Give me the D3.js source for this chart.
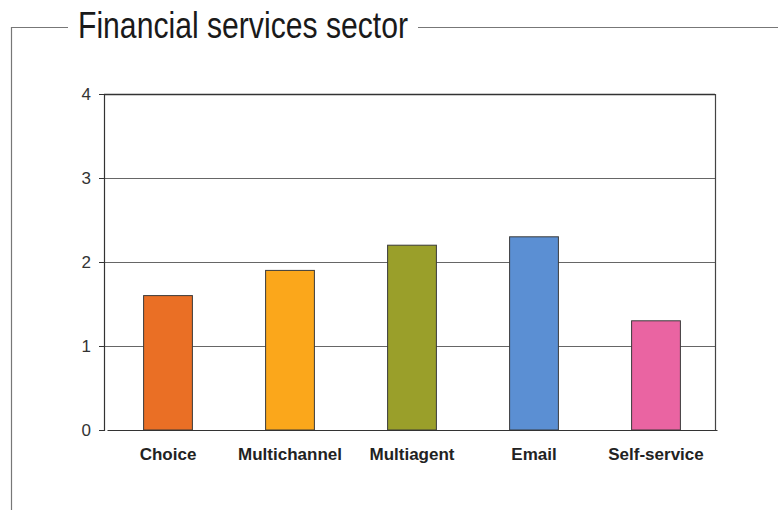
<!DOCTYPE html>
<html>
<head>
<meta charset="utf-8">
<script src="https://cdn.jsdelivr.net/npm/d3@7/dist/d3.min.js"></script>
<style>
  html, body { margin: 0; padding: 0; background: #fff; }
  svg { display: block; }
</style>
</head>
<body>
<svg id="chart" width="778" height="510"></svg>
<script>
// Average score by contact channel, financial services sector
const categories = ["Choice", "Multichannel", "Multiagent", "Email", "Self-service"];
const values = [1.6, 1.9, 2.2, 2.3, 1.3];
const barColors = ["#ea6f25", "#fba71b", "#9a9f2a", "#5b8fd3", "#ea64a2"];
const yTicks = [0, 1, 2, 3, 4];
const title = "Financial services sector";

const svg = d3.select("#chart");
const W = 778, H = 510;
const margin = { left: 104, right: 63, top: 94, bottom: 80 };
const plotW = W - margin.left - margin.right;
const plotH = H - margin.top - margin.bottom;

const narrow = "'Liberation Sans Narrow', 'Arial Narrow', 'Liberation Sans', sans-serif";

// Outer frame with the title set into its top edge
const frame = svg.append("g").attr("fill", "none").attr("stroke", "#777").attr("stroke-width", 1.2);
frame.append("path").attr("d", "M68,27.5 H11.5 V510");
frame.append("path").attr("d", "M418,27.5 H778");

svg.append("text")
  .attr("x", 78).attr("y", 38)
  .attr("font-family", narrow)
  .attr("font-size", 36)
  .attr("fill", "#1a1a1a")
  .attr("textLength", 330)
  .attr("lengthAdjust", "spacingAndGlyphs")
  .text(title);

const g = svg.append("g").attr("transform", `translate(${margin.left},${margin.top})`);

const x = d3.scaleBand().domain(categories).range([3, plotW + 2]).paddingInner(0.6).paddingOuter(0.3);
const y = d3.scaleLinear().domain([0, 4]).range([plotH, 0]);

// Horizontal gridlines
g.append("g")
  .selectAll("line")
  .data(yTicks.filter(t => t > 0))
  .join("line")
  .attr("x1", 0).attr("x2", plotW)
  .attr("y1", d => y(d) + 0.5).attr("y2", d => y(d) + 0.5)
  .attr("stroke", d => d === 4 ? "#333" : "#666")
  .attr("stroke-width", d => d === 4 ? 1.3 : 1);

// Right edge of the plot area
g.append("line")
  .attr("x1", plotW + 0.5).attr("x2", plotW + 0.5)
  .attr("y1", y(4)).attr("y2", y(0))
  .attr("stroke", "#444").attr("stroke-width", 1.2);

// Bars
g.append("g")
  .selectAll("rect")
  .data(categories)
  .join("rect")
  .attr("x", d => x(d))
  .attr("y", (d, i) => y(values[i]))
  .attr("width", x.bandwidth())
  .attr("height", (d, i) => y(0) - y(values[i]))
  .attr("fill", (d, i) => barColors[i])
  .attr("stroke", "#3a3a3a")
  .attr("stroke-width", 1);

// Y axis
const yAxis = g.append("g")
  .call(d3.axisLeft(y).tickValues(yTicks).tickSize(5).tickPadding(8).tickFormat(d3.format("d")));
yAxis.select(".domain").attr("stroke", "#333").attr("stroke-width", 1.2);
yAxis.selectAll(".tick line").attr("stroke", "#333");
yAxis.selectAll("text")
  .attr("font-family", narrow)
  .attr("font-size", 17)
  .attr("fill", "#333");

// X axis
const xAxis = g.append("g")
  .attr("transform", `translate(0,${plotH})`)
  .call(d3.axisBottom(x).tickSize(0).tickPadding(18));
xAxis.select(".domain").attr("stroke", "#333").attr("stroke-width", 1.2);
xAxis.selectAll("text")
  .attr("font-family", narrow)
  .attr("font-size", 17)
  .attr("font-weight", "bold")
  .attr("fill", "#222");
</script>
</body>
</html>
